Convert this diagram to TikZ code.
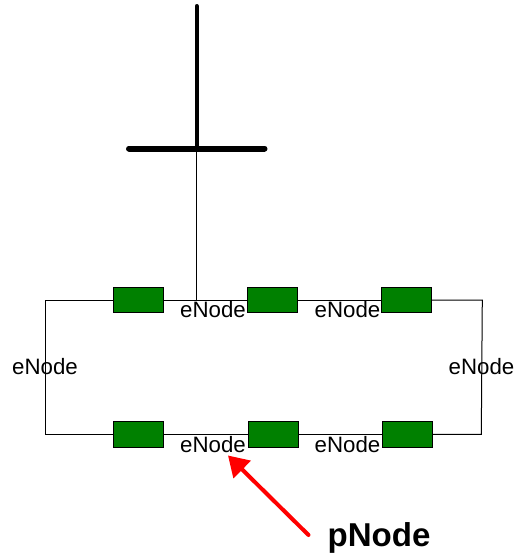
\documentclass[tikz,border=0pt]{standalone}
\usepackage{fontspec}
\setmainfont{Liberation Sans}
\usetikzlibrary{arrows.meta}
\definecolor{boxgreen}{RGB}{0,128,0}
\tikzset{
 rbox/.style={draw=black, line width=0.6pt, fill=boxgreen, minimum width=37.5pt, minimum height=19pt, inner sep=0pt},
 wire/.style={draw, line width=0.75pt},
 enode/.style={inner sep=0pt, font=\fontsize{16.7}{18}\selectfont},
 pnode/.style={inner sep=0pt, font=\fontsize{24.8}{28}\selectfont\bfseries},
}
\begin{document}
\begin{tikzpicture}[x=0.75pt, y=-0.75pt]
 \useasboundingbox (0,0) rectangle (514,554);

 %mast
 \coordinate (mtop) at (196.7,6);
 \coordinate (mfoot) at (196.7,148.5);
 \coordinate (bleft) at (129,148.5);
 \coordinate (bright) at (264.5,148.5);
 \coordinate (tap) at (196.7,300);

 %corners
 \coordinate (c1) at (45.3,300);
 \coordinate (c2) at (482.3,300);
 \coordinate (c3) at (481.3,434.3);
 \coordinate (c4) at (45.3,434.3);

 %top row
 \node[rbox] (t1) at (138,300) {};
 \node[rbox] (t2) at (272.3,300) {};
 \node[rbox] (t3) at (406.7,300) {};

 %bottom row
 \node[rbox] (b1) at (138.7,434.3) {};
 \node[rbox] (b2) at (273.3,434.3) {};
 \node[rbox] (b3) at (407.3,434.3) {};

 %lines
 \path[wire] (t1.west) -- (c1) -- (c4) -- (b1.west);
 \path[wire] (t1.east) -- (t2.west);
 \path[wire] (t2.east) -- (t3.west);
 \path[wire] (t3.east) -- (c2) -- (c3) -- (b3.east);
 \path[wire] (b1.east) -- (b2.west);
 \path[wire] (b2.east) -- (b3.west);
 \path[wire] (mfoot) -- (tap);

 \path[draw, line width=3pt, line cap=round] (mtop) -- (mfoot);
 \path[draw, line width=4.5pt, line cap=round] (bleft) -- (bright);

 %labels
 \node[enode] (e1) at (213,310) {eNode};
 \node[enode] (e2) at (347.5,310) {eNode};
 \node[enode] (e3) at (45,367) {eNode};
 \node[enode] (e4) at (481.5,367) {eNode};
 \node[enode] (e5) at (213,445) {eNode};
 \node[enode] (e6) at (347.5,445) {eNode};

 %pointer
 \node[pnode] (p1) at (379,537.5) {pNode};
 \coordinate (ptail) at (308.5,535);
 \coordinate (ptip) at (228,455.5);
 \path[draw, red, line width=3pt, line cap=round, -{Triangle[length=15pt,width=18pt]}] (ptail) -- (ptip);
\end{tikzpicture}
\end{document}
